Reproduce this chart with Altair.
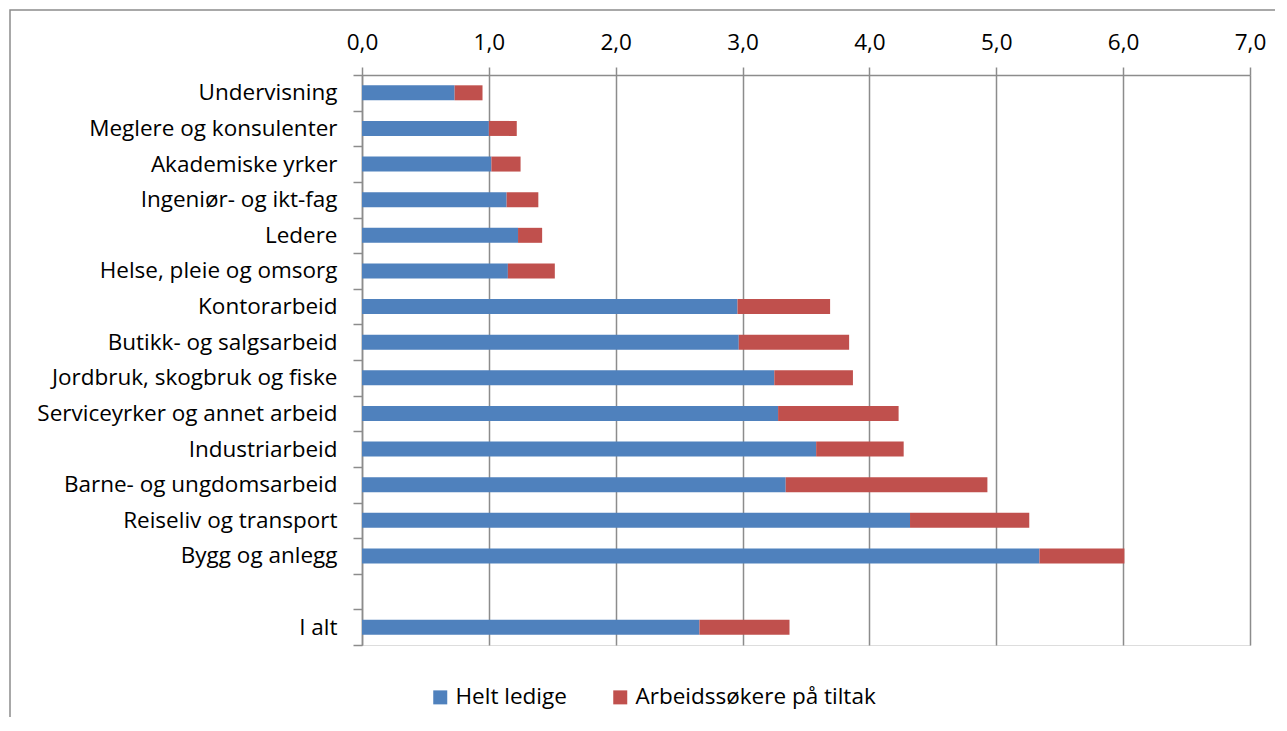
import altair as alt
import pandas as pd

categories = [
    "Undervisning",
    "Meglere og konsulenter",
    "Akademiske yrker",
    "Ingeniør- og ikt-fag",
    "Ledere",
    "Helse, pleie og omsorg",
    "Kontorarbeid",
    "Butikk- og salgsarbeid",
    "Jordbruk, skogbruk og fiske",
    "Serviceyrker og annet arbeid",
    "Industriarbeid",
    "Barne- og ungdomsarbeid",
    "Reiseliv og transport",
    "Bygg og anlegg",
    "I alt",
]
helt_ledige = [0.73, 1.00, 1.02, 1.14, 1.23, 1.15, 2.96, 2.97, 3.25, 3.28, 3.58, 3.34, 4.32, 5.34, 2.66]
paa_tiltak = [0.22, 0.22, 0.23, 0.25, 0.19, 0.37, 0.73, 0.87, 0.62, 0.95, 0.69, 1.59, 0.94, 0.67, 0.71]
series = ["Helt ledige", "Arbeidssøkere på tiltak"]
colors = ["#4F81BD", "#C0504D"]
x_ticks = [0, 1, 2, 3, 4, 5, 6, 7]

rows = []
for c, a, b in zip(categories, helt_ledige, paa_tiltak):
    rows.append({"kategori": c, "serie": series[0], "verdi": a, "rekke": 0})
    rows.append({"kategori": c, "serie": series[1], "verdi": b, "rekke": 1})
df = pd.DataFrame(rows)

y_domain = categories[:-1] + [" "] + [categories[-1]]

FONT = "Open Sans"
FS = 22.5

bars = alt.Chart(df).mark_bar(size=15).encode(
    x=alt.X(
        "sum(verdi):Q",
        scale=alt.Scale(domain=[0, 7], nice=False),
        axis=alt.Axis(
            orient="top",
            values=x_ticks,
            title=None,
            labelExpr="replace(format(datum.value, '.1f'), '.', ',')",
            labelFlush=False,
            grid=True,
            gridColor="#8c8c8c",
            gridWidth=1.5,
            domainColor="#8c8c8c",
            domainWidth=1.5,
            tickColor="#8c8c8c",
            tickWidth=1.5,
            tickSize=8,
            labelPadding=13,
            labelFont=FONT,
            labelFontSize=FS,
            labelColor="#000000",
        ),
    ),
    y=alt.Y(
        "kategori:N",
        sort=y_domain,
        scale=alt.Scale(domain=y_domain, paddingInner=0, paddingOuter=0),
        axis=alt.Axis(
            title=None,
            tickBand="extent",
            domainColor="#8c8c8c",
            domainWidth=1.5,
            tickColor="#8c8c8c",
            tickWidth=1.5,
            tickSize=9,
            labelPadding=16,
            labelFont=FONT,
            labelFontSize=FS,
            labelColor="#000000",
            labelLimit=400,
        ),
    ),
    color=alt.Color(
        "serie:N",
        scale=alt.Scale(domain=series, range=colors),
        legend=alt.Legend(
            title=None,
            orient="none",
            legendX=67,
            legendY=611,
            direction="horizontal",
            symbolType="square",
            symbolSize=196,
            symbolStrokeWidth=0,
            labelFont=FONT,
            labelFontSize=FS,
            labelColor="#000000",
            labelLimit=400,
            labelOffset=4,
            columnPadding=42,
        ),
    ),
    order=alt.Order("rekke:Q"),
)

frame = alt.Chart(pd.DataFrame({"r": [0]})).mark_rect(
    filled=False, stroke="#8c8c8c", strokeWidth=1.5
).encode(
    x=alt.value(-352), x2=alt.value(1000), y=alt.value(-65), y2=alt.value(800)
)

chart = (
    alt.layer(frame, bars)
    .properties(
        width=888,
        height=570,
        autosize=alt.AutoSizeParams(type="none"),
        padding={"left": 354, "top": 67, "right": 25, "bottom": 72},
    )
    .configure_view(stroke=None)
    .configure(background="#ffffff")
)

chart.save("out.html", embed_options={"renderer": "svg", "actions": False})
